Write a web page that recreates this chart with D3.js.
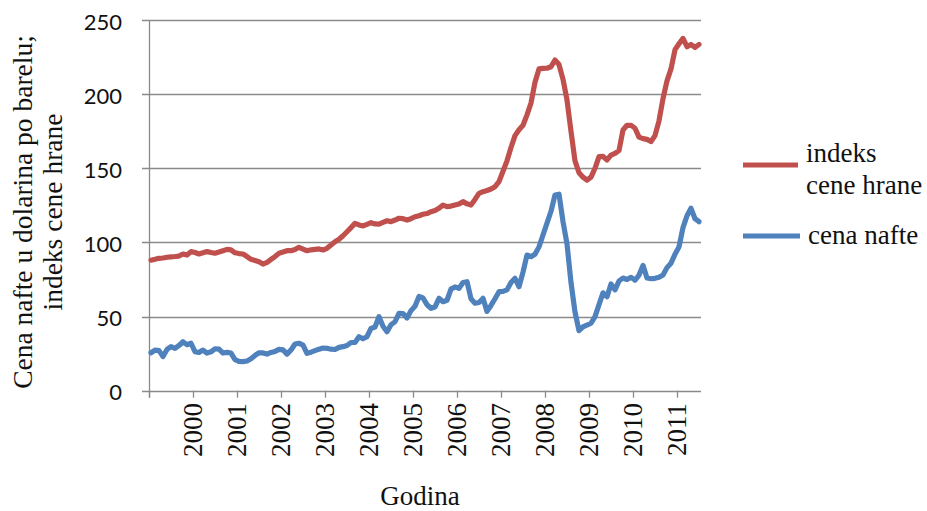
<!DOCTYPE html>
<html>
<head>
<meta charset="utf-8">
<script src="https://cdn.jsdelivr.net/npm/d3@7"></script>
<style>
  html, body { margin: 0; padding: 0; background: #fff; }
  svg { display: block; }
</style>
</head>
<body>
<svg id="chart" width="927" height="511"></svg>
<script>
// Monthly values, January 2000 – June 2011 (138 months)
const yearLabels = ["2000","2001","2002","2003","2004","2005","2006","2007","2008","2009","2010","2011"];
const yTicks = [0, 50, 100, 150, 200, 250];
const seriesNames = ["indeks cene hrane", "cena nafte"];

const foodIndex = [
  // 2000
  88.0, 88.6, 89.3, 89.5, 90.0, 90.3, 90.5, 90.8, 92.2, 91.5, 93.8, 93.2,
  // 2001
  92.2, 93.0, 93.8, 93.2, 92.7, 93.5, 94.4, 95.3, 95.0, 93.0, 92.5, 92.2,
  // 2002
  90.5, 88.6, 87.8, 87.0, 85.4, 86.5, 88.6, 90.5, 92.7, 93.5, 94.4, 94.4,
  // 2003
  95.2, 96.7, 95.5, 94.4, 95.0, 95.3, 95.6, 94.9, 96.0, 98.3, 100.5, 102.1,
  // 2004
  104.5, 107.2, 110.0, 112.9, 111.8, 111.1, 112.2, 113.3, 112.5, 112.4, 113.5, 114.6,
  // 2005
  114.0, 115.1, 116.3, 116.0, 115.1, 116.0, 117.3, 118.0, 119.0, 119.5, 120.7, 121.5,
  // 2006
  123.0, 125.2, 124.1, 124.5, 125.2, 125.9, 127.5, 126.0, 125.2, 129.0, 133.1, 134.2,
  // 2007
  135.0, 136.0, 137.6, 141.0, 148.0, 155.0, 164.0, 172.0, 176.0, 179.0, 186.0, 194.0,
  // 2008
  208.0, 217.0, 217.4, 217.5, 218.5, 223.0, 220.0, 210.0, 196.0, 175.0, 155.0, 147.0,
  // 2009
  144.0, 142.0, 144.0, 150.0, 157.8, 158.0, 155.6, 158.9, 160.0, 162.0, 175.8, 179.0,
  // 2010
  179.0, 177.0, 171.0, 170.0, 169.5, 168.0, 172.0, 182.0, 197.0, 209.0, 217.0, 230.0,
  // 2011
  234.0, 237.6, 232.0, 233.5, 231.5, 233.5
];

const oilPrice = [
  // 2000
  25.6, 27.4, 27.0, 23.0, 27.8, 29.7, 28.6, 30.5, 33.0, 31.0, 32.0, 26.3,
  // 2001
  25.8, 27.4, 25.4, 26.2, 28.3, 28.0, 25.4, 25.8, 25.4, 21.0, 19.8, 19.6,
  // 2002
  20.0, 21.5, 23.8, 25.6, 25.5, 24.7, 25.8, 26.5, 27.9, 27.5, 24.7, 27.5,
  // 2003
  31.5, 32.0, 30.8, 25.2, 26.0, 27.0, 28.0, 28.8, 28.6, 28.0, 27.8, 29.2,
  // 2004
  29.7, 30.5, 32.5, 32.5, 36.4, 35.0, 36.4, 42.0, 43.0, 49.9, 43.5, 39.8,
  // 2005
  44.5, 46.5, 52.2, 52.0, 49.0, 54.0, 57.0, 63.5, 62.5, 58.0, 55.6, 56.5,
  // 2006
  62.3, 60.0, 61.0, 68.5, 70.0, 69.0, 73.0, 73.5, 62.0, 59.0, 59.5, 62.3,
  // 2007
  53.5, 57.5, 62.0, 66.8, 67.0, 68.0, 73.0, 75.8, 70.1, 80.0, 91.5, 90.4,
  // 2008
  92.0, 97.0, 105.0, 113.0, 121.0, 132.0, 132.5, 114.0, 99.0, 73.0, 53.0, 40.5,
  // 2009
  43.0, 44.3, 45.5, 50.0, 58.0, 66.0, 63.4, 72.0, 68.0, 74.0, 76.0, 75.0,
  // 2010
  76.5, 74.5, 78.0, 84.5, 76.0, 75.5, 75.8, 76.5, 78.0, 83.0, 86.0, 92.0,
  // 2011
  97.0, 110.0, 118.0, 123.0, 116.0, 114.0
];

const colors = ["#C0504D", "#4F81BD"];
const nCats = foodIndex.length;      // 138 monthly categories
const tickEvery = 11;                 // categories between tick marks in the reference

const svg = d3.select("#chart");
const plotL = 149, plotR = 701, plotT = 20, plotB = 390.7;

const x = d3.scaleLinear().domain([0, nCats]).range([plotL, plotR]);
const y = d3.scaleLinear().domain([0, 250]).range([plotB, plotT]);

const gridColor = "#8a8a8a";
const serif = "'Liberation Serif', 'Times New Roman', serif";

// horizontal gridlines + y ticks
svg.append("g").selectAll("line").data(yTicks).join("line")
  .attr("x1", plotL - 7).attr("x2", plotR)
  .attr("y1", d => Math.round(y(d)) + 0.5).attr("y2", d => Math.round(y(d)) + 0.5)
  .attr("stroke", gridColor).attr("stroke-width", 1.3);

// y axis line
svg.append("line")
  .attr("x1", plotL + 0.5).attr("x2", plotL + 0.5)
  .attr("y1", plotT).attr("y2", plotB + 7)
  .attr("stroke", gridColor).attr("stroke-width", 1.3);

// x tick marks
const xTickIdx = d3.range(0, nCats, tickEvery);
svg.append("g").selectAll("line").data(xTickIdx).join("line")
  .attr("x1", d => Math.round(x(d)) + 0.5).attr("x2", d => Math.round(x(d)) + 0.5)
  .attr("y1", plotB).attr("y2", plotB + 7)
  .attr("stroke", gridColor).attr("stroke-width", 1.3);

// y tick labels
svg.append("g").selectAll("text").data(yTicks).join("text")
  .attr("x", 122).attr("y", d => y(d) + 4)
  .attr("text-anchor", "end").attr("dominant-baseline", "middle")
  .attr("font-family", "Lato, 'Open Sans', sans-serif")
  .attr("font-size", 22).attr("fill", "#111")
  .text(d => d);

// x tick labels (rotated)
svg.append("g").selectAll("text").data(yearLabels).join("text")
  .attr("transform", (d, i) => `translate(${x((i + 1) * tickEvery) + 9},403) rotate(-90)`)
  .attr("text-anchor", "end")
  .attr("font-family", serif)
  .attr("font-size", 27).attr("fill", "#111")
  .text(d => d);

// axis titles
svg.append("text")
  .attr("x", 420).attr("y", 505)
  .attr("text-anchor", "middle")
  .attr("font-family", serif)
  .attr("font-size", 27).attr("fill", "#111")
  .text("Godina");

const yTitle = svg.append("text")
  .attr("transform", "translate(0,212) rotate(-90)")
  .attr("text-anchor", "middle")
  .attr("font-family", serif)
  .attr("font-size", 27.5).attr("fill", "#111");
yTitle.append("tspan").attr("x", 0).attr("y", 32).text("Cena nafte u dolarina po barelu;");
yTitle.append("tspan").attr("x", 0).attr("y", 62).text("indeks cene hrane");

// lines
const lineGen = d3.line().x((d, i) => x(i + 0.5)).y(d => y(d));
[foodIndex, oilPrice].forEach((s, k) => {
  svg.append("path").datum(s)
    .attr("d", lineGen)
    .attr("fill", "none")
    .attr("stroke", colors[k])
    .attr("stroke-width", 5.2)
    .attr("stroke-linejoin", "round")
    .attr("stroke-linecap", "round");
});

// legend
const legend = svg.append("g");
legend.append("line").attr("x1", 743).attr("x2", 798).attr("y1", 165).attr("y2", 165)
  .attr("stroke", colors[0]).attr("stroke-width", 5.2);
const lt = legend.append("text")
  .attr("font-family", serif)
  .attr("font-size", 27).attr("fill", "#111");
lt.append("tspan").attr("x", 806).attr("y", 162).text("indeks");
lt.append("tspan").attr("x", 806).attr("y", 194).text("cene hrane");
legend.append("line").attr("x1", 743).attr("x2", 800).attr("y1", 236).attr("y2", 236)
  .attr("stroke", colors[1]).attr("stroke-width", 5.2);
legend.append("text").attr("x", 808).attr("y", 244)
  .attr("font-family", serif)
  .attr("font-size", 27).attr("fill", "#111")
  .text(seriesNames[1]);
</script>
</body>
</html>
